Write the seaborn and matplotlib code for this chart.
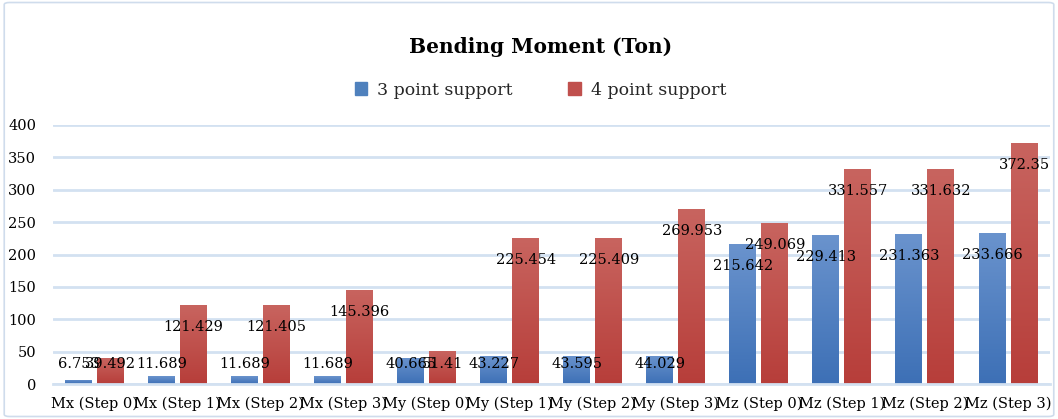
import numpy as np
import pandas as pd
import matplotlib
matplotlib.use("Agg")
import matplotlib.pyplot as plt
import seaborn as sns
from matplotlib.colors import LinearSegmentedColormap
from matplotlib.patches import FancyBboxPatch

# data
categories = ["Mx (Step 0)", "Mx (Step 1)", "Mx (Step 2)", "Mx (Step 3)",
              "My (Step 0)", "My (Step 1)", "My (Step 2)", "My (Step 3)",
              "Mz (Step 0)", "Mz (Step 1)", "Mz (Step 2)", "Mz (Step 3)"]
three_point = [6.753, 11.689, 11.689, 11.689, 40.665, 43.227,
               43.595, 44.029, 215.642, 229.413, 231.363, 233.666]
four_point = [39.492, 121.429, 121.405, 145.396, 51.41, 225.454,
              225.409, 269.953, 249.069, 331.557, 331.632, 372.35]
series = ["3 point support", "4 point support"]
y_ticks = [0, 50, 100, 150, 200, 250, 300, 350, 400]

df = pd.DataFrame({
    "category": categories * 2,
    "value": three_point + four_point,
    "series": [series[0]] * len(categories) + [series[1]] * len(categories),
})

sns.set_style("white")
plt.rcParams["font.family"] = ["DejaVu Serif"]

palette = {series[0]: "#4f81bd", series[1]: "#c0504d"}
grads = {series[0]: ("#6a93cd", "#3d70b6"), series[1]: ("#c8645f", "#b73e3a")}

fig = plt.figure(figsize=(10.58, 4.19), dpi=100)
ax = fig.add_axes([0.05, 0.0835, 0.942, 0.6182])

sns.barplot(data=df, x="category", y="value", hue="series", palette=palette,
            width=0.77, gap=0.156, ax=ax, legend=False, saturation=1)

# gradient fill for each bar (Excel look)
bars = [p for p in ax.patches]
n = len(categories)
for i, p in enumerate(bars):
    s = series[i // n]
    top_c, bot_c = grads[s]
    cmap = LinearSegmentedColormap.from_list("g", [bot_c, top_c])
    x0, y0 = p.get_x(), p.get_y()
    w, h = p.get_width(), p.get_height()
    grad = np.linspace(0, 1, 100).reshape(-1, 1)
    im = ax.imshow(grad, cmap=cmap, origin="lower", aspect="auto",
                   extent=[x0, x0 + w, y0, y0 + h], zorder=p.get_zorder())
    im.set_clip_path(p)
    p.set_facecolor("none")
    p.set_edgecolor("none")

# value labels, inside end, kept above the axis for short bars
for i, p in enumerate(bars):
    v = p.get_height()
    ax.text(p.get_x() + p.get_width() / 2, max(v - 34, 31), f"{v:g}",
            ha="center", va="center", fontsize=10.5, color="black", zorder=5)

ax.set_xlim(-0.5, n - 0.5)
ax.set_ylim(0, 400)
ax.set_yticks(y_ticks)
ax.yaxis.grid(True, color="#d3e1f1", linewidth=2)
ax.set_axisbelow(True)
for side in ["top", "right", "left"]:
    ax.spines[side].set_visible(False)
ax.spines["bottom"].set_color("#d3e1f1")
ax.spines["bottom"].set_linewidth(2)
ax.tick_params(axis="y", length=0, pad=12, labelsize=10.5, labelcolor="black")
ax.tick_params(axis="x", length=0, pad=9, labelsize=10.5, labelcolor="black")
ax.set_xlabel("")
ax.set_ylabel("")

fig.text(0.511, 0.888, "Bending Moment (Ton)", ha="center", va="center",
         fontsize=14.5, fontweight="bold", color="black")

handles = [plt.Rectangle((0, 0), 1, 1, color=palette[s]) for s in series]
fig.legend(handles, series, loc="center", bbox_to_anchor=(0.511, 0.785),
           ncol=2, frameon=False, fontsize=12.5, handlelength=0.7,
           handleheight=0.7, columnspacing=3.2, handletextpad=0.6)

# outer chart border
border = FancyBboxPatch((0.004, 0.006), 0.992, 0.988,
                        boxstyle="round,pad=0,rounding_size=0.005",
                        transform=fig.transFigure, fill=False,
                        edgecolor="#cfdcec", linewidth=1.2)
fig.patches.append(border)

fig.savefig("out.png", dpi=100)
